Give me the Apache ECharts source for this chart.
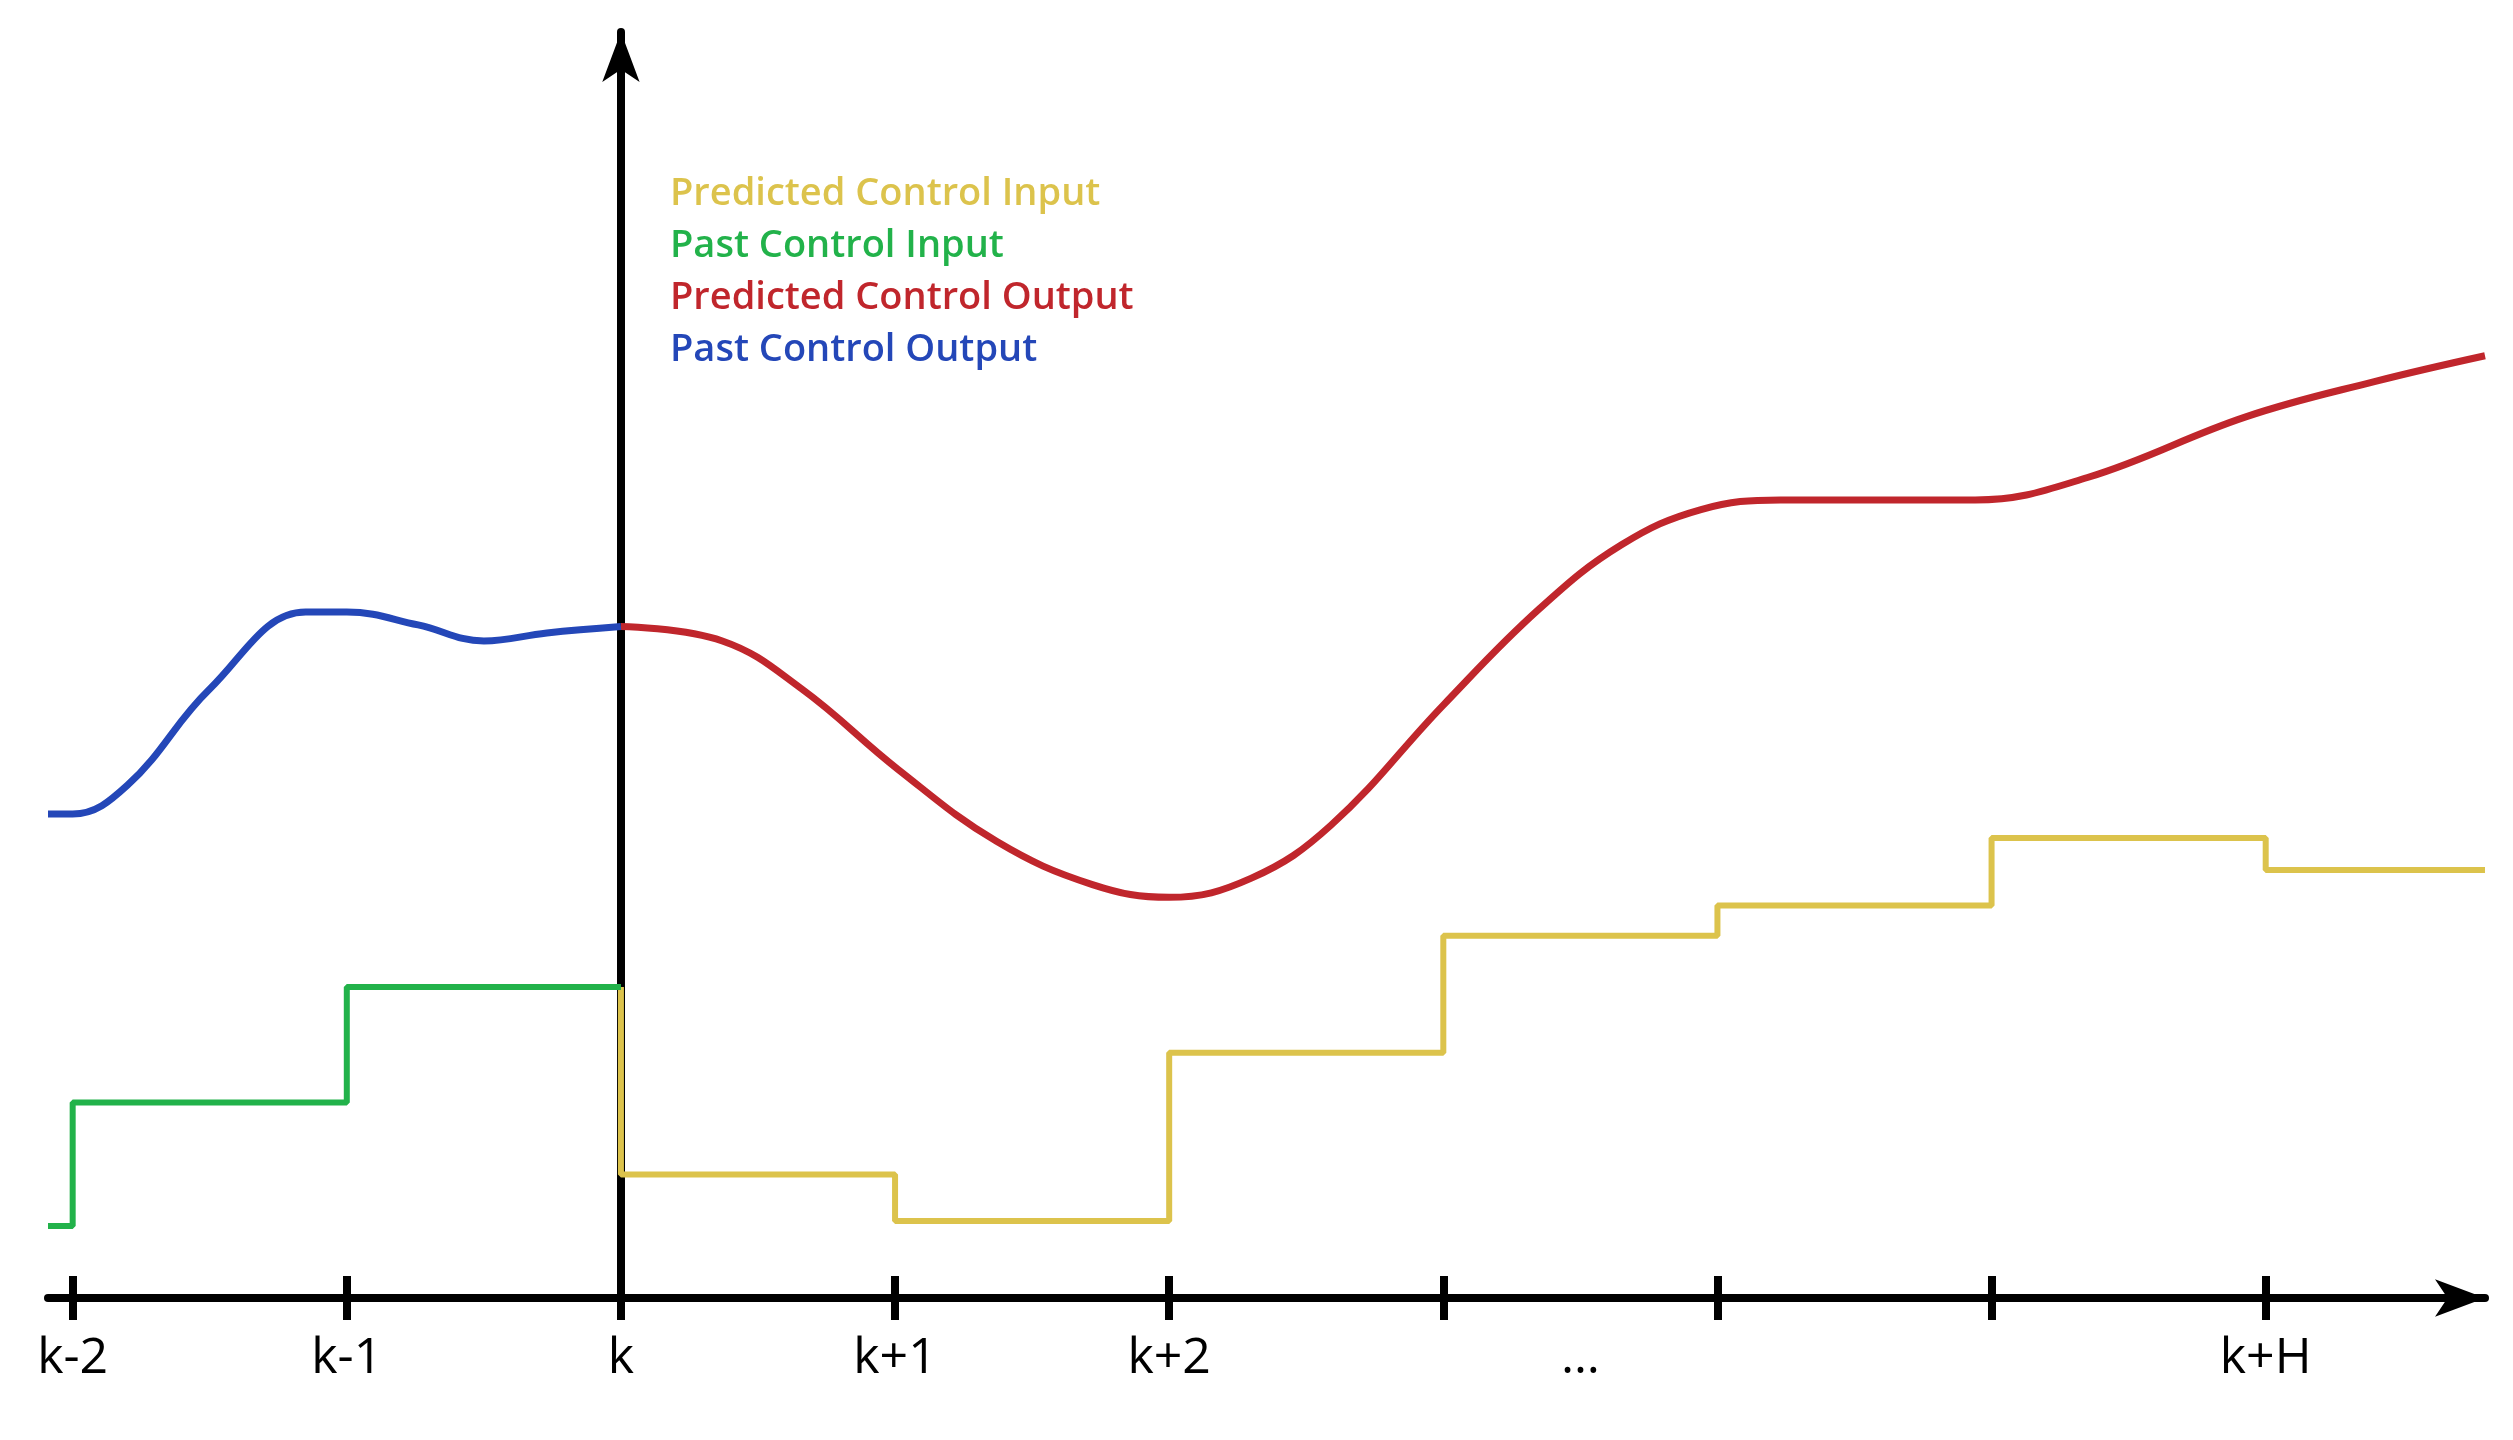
<!DOCTYPE html>
<html lang="en">
<head>
    <meta charset="UTF-8">
    <title>MPC horizon</title>
    <style>
        html, body {margin: 0; padding: 0; background: #fff;}
        #main {width: 2513px; height: 1440px;}
    </style>
</head>
<body>
<div id="main"></div>
<script src="https://cdn.jsdelivr.net/npm/echarts@6/dist/echarts.min.js"></script>
<script>
    // x in sample steps relative to k, y in arbitrary units
    const tickValues = [-2, -1, 0, 1, 2, 3, 4, 5, 6];
    const labelValues = [-2, -1, 0, 1, 2, 3.5, 6];
    const labelNames = {'-2': 'k-2', '-1': 'k-1', '0': 'k', '1': 'k+1', '2': 'k+2', '3.5': '…', '6': 'k+H'};

    const pastInput = [[-2.09, 45], [-2, 122], [-1, 194], [0, 194]];
    const predInput = [[0, 194], [0, 77], [1, 48], [2, 153], [3, 226], [4, 245], [5, 287], [6, 267], [6.8, 267]];
    const pastOutput = [[-2.09, 302], [-2, 302], [-1.8, 320], [-1.5, 380], [-1.15, 428], [-1, 428],
        [-0.74, 420], [-0.5, 410], [-0.27, 415], [0, 419]];
    const predOutput = [[0, 419], [0.37, 410], [0.66, 380], [1.01, 330], [1.37, 285], [1.72, 258], [2, 250],
        [2.3, 262], [2.59, 295], [3, 370], [3.35, 430], [3.65, 470], [3.94, 492], [4.23, 498], [4.53, 498],
        [4.94, 498], [5.35, 512], [5.93, 550], [6.4, 572], [6.8, 588]];

    const C_YEL = '#dcc34c', C_GRN = '#22b24a', C_RED = '#c0262c', C_BLU = '#2447b8';
    const font = 'Open Sans';

    const chart = echarts.init(document.getElementById('main'));
    chart.setOption({
        animation: false,
        legend: {
            orient: 'vertical', left: 660, top: 170, itemGap: 14, itemWidth: 0, itemHeight: 0, icon: 'none',
            textStyle: {fontFamily: font, fontSize: 38, fontWeight: 600},
            data: [
                {name: 'Predicted Control Input', textStyle: {color: C_YEL}},
                {name: 'Past Control Input', textStyle: {color: C_GRN}},
                {name: 'Predicted Control Output', textStyle: {color: C_RED}},
                {name: 'Past Control Output', textStyle: {color: C_BLU}}
            ]
        },
        grid: {left: 48, right: 28, top: 32, bottom: 142},
        xAxis: [{
            type: 'value', min: -2.09, max: 6.8, splitLine: {show: false},
            axisLine: {lineStyle: {color: '#000', width: 8}, symbol: ['none', 'arrow'], symbolSize: [28, 50]},
            axisTick: {customValues: tickValues, length: 22, lineStyle: {color: '#000', width: 8}},
            axisLabel: {customValues: labelValues, margin: 36, color: '#000', fontFamily: font, fontSize: 50,
                formatter: v => labelNames[String(v)] || ''}
        }, {
            type: 'value', min: -2.09, max: 6.8, position: 'bottom', splitLine: {show: false},
            axisLine: {show: false},
            axisTick: {customValues: tickValues, inside: true, length: 22, lineStyle: {color: '#000', width: 8}},
            axisLabel: {show: false}
        }],
        yAxis: {
            type: 'value', min: 0, max: 790, splitLine: {show: false},
            axisLine: {onZero: true, lineStyle: {color: '#000', width: 8}, symbol: ['none', 'arrow'], symbolSize: [28, 50]},
            axisTick: {show: false}, axisLabel: {show: false}
        },
        series: [
            {name: 'Predicted Control Input', type: 'line', step: 'end', data: predInput, showSymbol: false,
                lineStyle: {color: C_YEL, width: 6}, itemStyle: {color: C_YEL}},
            {name: 'Past Control Input', type: 'line', step: 'end', data: pastInput, showSymbol: false,
                lineStyle: {color: C_GRN, width: 6}, itemStyle: {color: C_GRN}},
            {name: 'Predicted Control Output', type: 'line', smooth: 0.4, data: predOutput, showSymbol: false,
                lineStyle: {color: C_RED, width: 7}, itemStyle: {color: C_RED}},
            {name: 'Past Control Output', type: 'line', smooth: 0.4, data: pastOutput, showSymbol: false,
                lineStyle: {color: C_BLU, width: 7}, itemStyle: {color: C_BLU}}
        ]
    });
</script>
</body>
</html>
